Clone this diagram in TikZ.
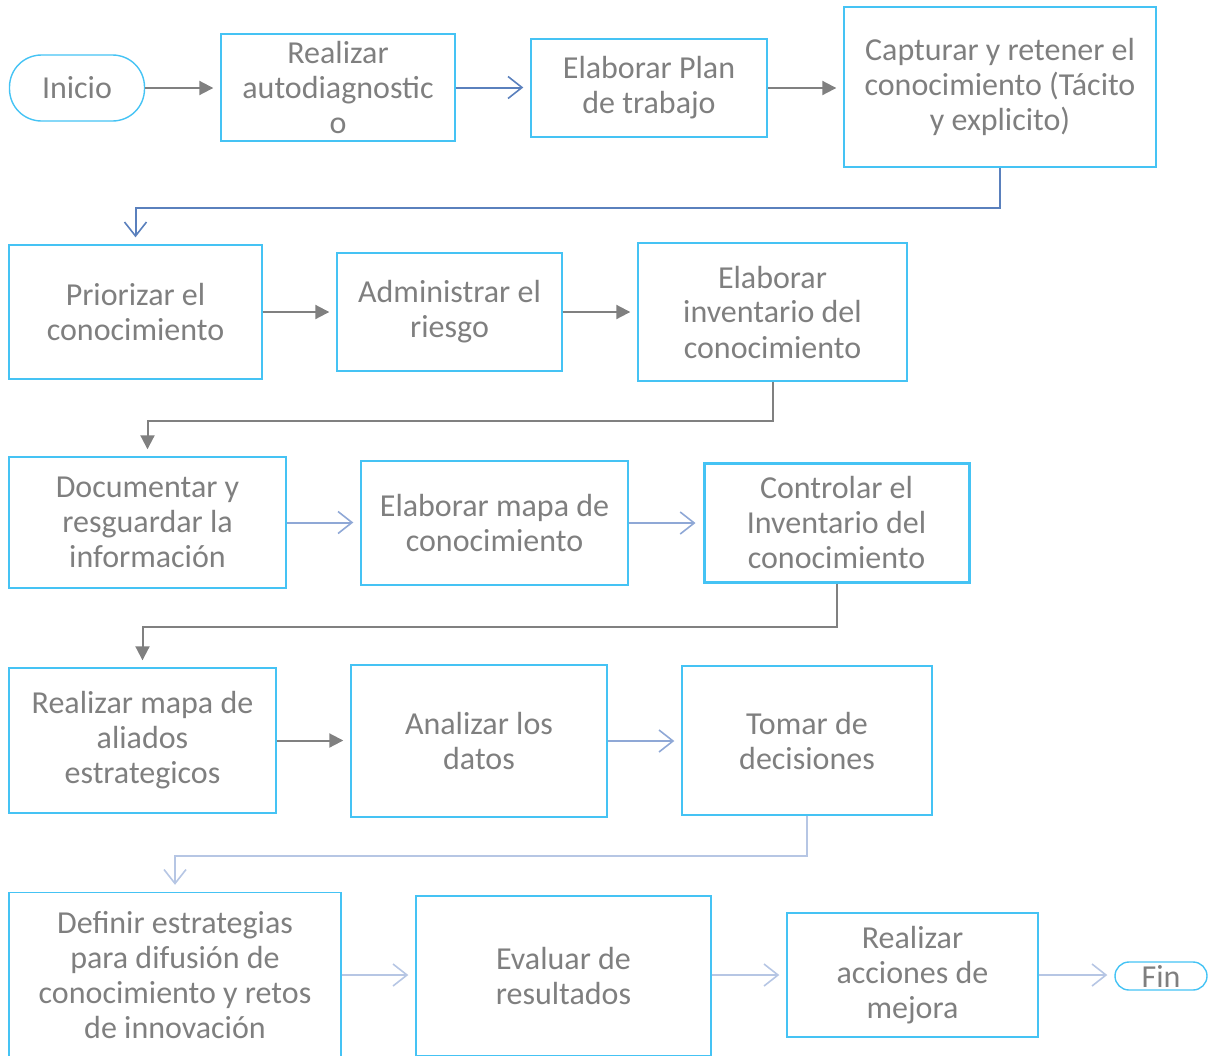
\documentclass[tikz,border=0pt]{standalone}
\usepackage{fontspec}
\setmainfont{Carlito}
\usetikzlibrary{arrows.meta}

\definecolor{boxblue}{HTML}{45C3F4}
\definecolor{txtgray}{HTML}{7F7F7F}
\definecolor{lngray}{HTML}{808080}
\definecolor{lnblue}{HTML}{5A80BD}
\definecolor{lnpale}{HTML}{8FA8D6}
\definecolor{lnfaint}{HTML}{B6C6E4}

\begin{document}
\begin{tikzpicture}[x=0.5pt,y=-0.5pt,
    font=\fontsize{16}{17.5}\selectfont,
    box/.style={draw=boxblue, line width=0.7pt, text=txtgray, align=center, inner sep=0pt},
    terminal/.style={box, rounded corners=#1},
    solidarrow/.style={draw=lngray, line width=1pt, -{Triangle[length=7pt,width=7pt]}, shorten >=3.5pt},
    openarrow/.style={draw=#1, line width=1pt, -{Straight Barb[length=7pt,width=11pt,line width=0.8pt]}, shorten >=3.5pt}]
    \useasboundingbox (0,0) rectangle (1209,1055);

    % fila 1
    \node[terminal=16pt, minimum width=67.5pt, minimum height=33pt] (inicio) at (77,88) {Inicio};
    \node[box, minimum width=117pt, minimum height=53.5pt] (autodiag) at (338,87.5) {Realizar\\autodiagnostic\\o};
    \node[box, minimum width=118pt, minimum height=49pt] (plan) at (649,88) {Elaborar Plan\\de trabajo};
    \node[box, minimum width=156pt, minimum height=80pt] (capturar) at (1000,87) {Capturar y retener el\\conocimiento (Tácito\\y explicito)};

    % fila 2
    \node[box, minimum width=126.5pt, minimum height=67pt] (priorizar) at (135.5,312) {Priorizar el\\conocimiento};
    \node[box, minimum width=112.5pt, minimum height=59pt] (riesgo) at (449.5,312) {Administrar el\\riesgo};
    \node[box, minimum width=134.5pt, minimum height=69pt] (inventario) at (772.5,312) {Elaborar\\inventario del\\conocimiento};

    % fila 3
    \node[box, minimum width=138.5pt, minimum height=65.5pt] (documentar) at (147.5,522.5) {Documentar y\\resguardar la\\información};
    \node[box, minimum width=133.5pt, minimum height=62pt] (mapa) at (494.5,523) {Elaborar mapa de\\conocimiento};
    \node[box, line width=1.5pt, minimum width=132.5pt, minimum height=59.5pt] (controlar) at (836.5,522.5) {Controlar el\\Inventario del\\conocimiento};

    % fila 4
    \node[box, minimum width=133.5pt, minimum height=72.5pt] (aliados) at (142.5,740.5) {Realizar mapa de\\aliados\\estrategicos};
    \node[box, minimum width=128pt, minimum height=76pt] (datos) at (479,741) {Analizar los\\datos};
    \node[box, minimum width=125pt, minimum height=74.5pt] (decisiones) at (807,740.5) {Tomar de\\decisiones};

    % fila 5
    \node[box, minimum width=166pt, minimum height=83pt] (estrategias) at (175,975.5) {Definir estrategias\\para difusión de\\conocimiento y retos\\de innovación};
    \node[box, minimum width=147.5pt, minimum height=80pt] (evaluar) at (563.5,976) {Evaluar de\\resultados};
    \node[box, minimum width=125.5pt, minimum height=62pt] (mejora) at (912.5,975) {Realizar\\acciones de\\mejora};
    \node[terminal=7pt, minimum width=46pt, minimum height=14pt] (fin) at (1161,976) {Fin};

    % conectores
    \draw[solidarrow] (inicio.east) -- (inicio.east -| autodiag.west);
    \draw[openarrow=lnblue] (autodiag.east) -- (autodiag.east -| plan.west);
    \draw[solidarrow] (plan.east) -- (plan.east -| capturar.west);
    \draw[openarrow=lnblue] (capturar.south) -- ++(0,40) -| (priorizar.north);

    \draw[solidarrow] (priorizar.east) -- (priorizar.east -| riesgo.west);
    \draw[solidarrow] (riesgo.east) -- (riesgo.east -| inventario.west);
    \draw[solidarrow] (inventario.south) -- ++(0,39) -| (documentar.north);

    \draw[openarrow=lnpale] (documentar.east) -- (documentar.east -| mapa.west);
    \draw[openarrow=lnpale] (mapa.east) -- (mapa.east -| controlar.west);
    \draw[solidarrow] (controlar.south) -- ++(0,43) -| (aliados.north);

    \draw[solidarrow] (aliados.east) -- (aliados.east -| datos.west);
    \draw[openarrow=lnpale] (datos.east) -- (datos.east -| decisiones.west);
    \draw[openarrow=lnfaint] (decisiones.south) -- ++(0,40) -| (estrategias.north);

    \draw[openarrow=lnfaint] (estrategias.east |- mejora.west) -- (mejora.west -| evaluar.west);
    \draw[openarrow=lnfaint] (evaluar.east |- mejora.west) -- (mejora.west);
    \draw[openarrow=lnfaint] (mejora.east) -- (mejora.east -| fin.west);
\end{tikzpicture}
\end{document}
